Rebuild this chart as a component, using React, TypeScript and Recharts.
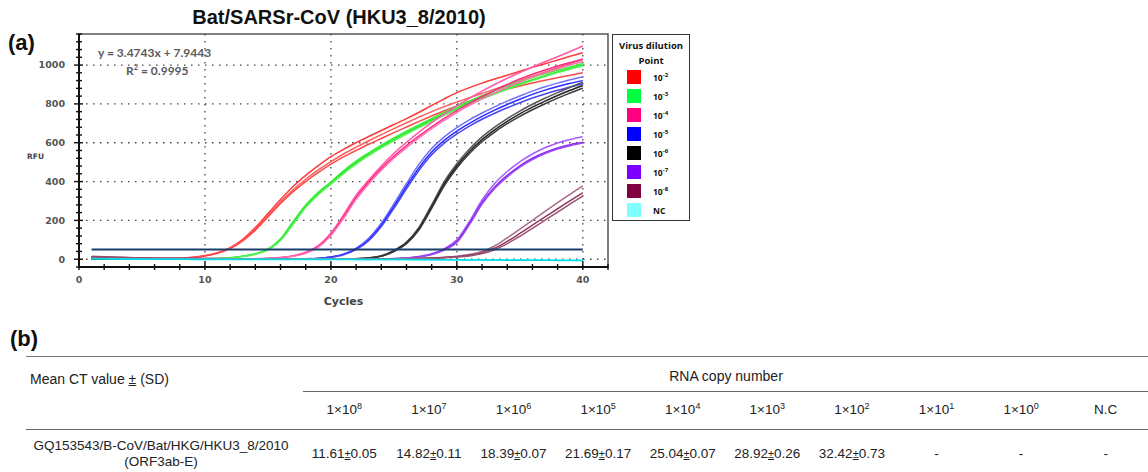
import React from 'react';
import { LineChart, Line, XAxis, YAxis, CartesianGrid, Legend, ReferenceArea } from 'recharts';

// amplification curves, RFU per cycle (3 replicates per dilution)
const cycles = [1, 2, 3, 4, 5, 6, 7, 8, 9, 10, 11, 12, 13, 14, 15, 16, 17, 18, 19, 20, 21, 22, 23, 24, 25, 26, 27, 28, 29, 30, 31, 32, 33, 34, 35, 36, 37, 38, 39, 40];

const red1 = [8, 6, 4, 3, 2, 2, 3, 5, 10, 19, 34, 60, 103, 163, 235, 308, 375, 432, 482, 528, 566, 600, 632, 663, 694, 724, 757, 792, 826, 858, 884, 907, 928, 948, 968, 988, 1007, 1026, 1045, 1063];
const red2 = [6, 4, 3, 2, 1, 1, 2, 4, 9, 18, 32, 57, 98, 155, 225, 295, 358, 412, 460, 503, 542, 577, 610, 642, 673, 703, 732, 760, 786, 810, 832, 854, 876, 898, 920, 942, 964, 986, 1008, 1030];
const red3 = [5, 3, 2, 1, 1, 1, 2, 4, 8, 17, 31, 55, 95, 150, 218, 287, 348, 400, 447, 490, 527, 560, 592, 622, 652, 681, 710, 738, 765, 790, 813, 835, 856, 875, 892, 908, 922, 935, 948, 960];

const green1 = [3, 2, 1, 1, 0, 0, 0, 1, 1, 2, 4, 8, 16, 28, 52, 105, 195, 280, 345, 398, 455, 505, 548, 588, 625, 660, 693, 725, 757, 788, 815, 842, 868, 893, 915, 936, 955, 973, 990, 1008];
const green2 = [2, 1, 1, 0, 0, 0, 0, 0, 1, 2, 4, 7, 15, 27, 50, 100, 187, 272, 338, 392, 448, 497, 540, 580, 617, 652, 685, 717, 748, 778, 806, 832, 857, 881, 904, 925, 945, 964, 982, 1000];
const green3 = [2, 2, 1, 1, 0, 0, 0, 0, 1, 1, 3, 7, 14, 26, 48, 96, 180, 266, 332, 386, 441, 490, 533, 573, 610, 645, 678, 710, 741, 771, 799, 826, 851, 875, 898, 920, 941, 961, 979, 996];

const pink1 = [4, 3, 2, 1, 0, 0, 0, 0, 0, 0, 1, 1, 2, 3, 5, 9, 18, 36, 70, 135, 228, 330, 408, 480, 545, 602, 655, 703, 748, 790, 830, 866, 900, 932, 962, 990, 1017, 1043, 1070, 1098];
const pink2 = [3, 2, 1, 1, 0, 0, 0, 0, 0, 0, 0, 1, 1, 2, 4, 8, 16, 33, 66, 128, 218, 318, 398, 468, 530, 585, 635, 682, 725, 765, 803, 838, 870, 900, 928, 953, 975, 995, 1013, 1030];
const pink3 = [3, 2, 1, 0, 0, 0, 0, 0, 0, 0, 0, 1, 1, 2, 4, 8, 15, 31, 62, 122, 210, 308, 388, 458, 520, 575, 625, 672, 715, 755, 792, 826, 857, 886, 913, 938, 960, 980, 1000, 1018];

const blue1 = [3, 2, 1, 0, 0, 0, 0, 0, 0, 0, 0, 0, 0, 0, 1, 1, 2, 3, 5, 12, 27, 57, 108, 185, 285, 390, 490, 570, 630, 678, 718, 753, 785, 814, 841, 866, 888, 907, 924, 940];
const blue2 = [2, 1, 1, 0, 0, 0, 0, 0, 0, 0, 0, 0, 0, 0, 0, 1, 1, 2, 4, 11, 25, 52, 100, 175, 272, 375, 472, 552, 612, 660, 700, 736, 768, 797, 824, 849, 871, 890, 906, 920];
const blue3 = [2, 1, 0, 0, 0, 0, 0, 0, 0, 0, 0, 0, 0, 0, 0, 1, 1, 2, 4, 10, 23, 49, 95, 168, 262, 362, 458, 538, 598, 645, 686, 721, 752, 780, 806, 830, 851, 870, 887, 903];

const black1 = [2, 1, 1, 0, 0, 0, 0, 0, 0, 0, 0, 0, 0, 0, 0, 0, 0, 0, 0, 0, 1, 3, 7, 18, 45, 88, 165, 280, 400, 492, 568, 630, 680, 724, 763, 798, 829, 858, 886, 912];
const black2 = [2, 1, 0, 0, 0, 0, 0, 0, 0, 0, 0, 0, 0, 0, 0, 0, 0, 0, 0, 0, 1, 2, 6, 16, 42, 84, 158, 270, 388, 480, 555, 616, 666, 710, 749, 783, 814, 843, 870, 895];
const black3 = [1, 1, 0, 0, 0, 0, 0, 0, 0, 0, 0, 0, 0, 0, 0, 0, 0, 0, 0, 0, 1, 2, 6, 15, 40, 80, 152, 262, 378, 470, 545, 605, 655, 698, 736, 770, 801, 830, 856, 881];

const purple1 = [10, 8, 6, 5, 4, 3, 3, 2, 2, 2, 2, 2, 2, 2, 2, 2, 2, 2, 2, 2, 2, 2, 3, 3, 4, 7, 14, 28, 55, 100, 195, 305, 390, 452, 502, 542, 574, 599, 617, 631];
const purple2 = [9, 7, 6, 4, 3, 3, 2, 2, 2, 2, 2, 2, 2, 2, 2, 2, 2, 2, 2, 2, 2, 2, 2, 3, 3, 6, 13, 26, 50, 92, 186, 293, 372, 432, 481, 520, 550, 573, 590, 602];
const purple3 = [8, 7, 5, 4, 3, 3, 2, 2, 2, 2, 2, 2, 2, 2, 2, 2, 2, 2, 2, 2, 2, 2, 2, 3, 3, 6, 12, 24, 47, 86, 178, 284, 364, 424, 474, 513, 544, 567, 585, 598];

const maroon1 = [15, 13, 11, 9, 7, 6, 5, 5, 4, 4, 4, 3, 3, 3, 3, 3, 3, 3, 3, 3, 3, 3, 3, 3, 3, 4, 5, 7, 10, 15, 24, 40, 68, 110, 155, 200, 246, 291, 335, 378];
const maroon2 = [13, 11, 9, 8, 6, 5, 5, 4, 4, 4, 3, 3, 3, 3, 3, 3, 3, 3, 3, 3, 3, 3, 3, 3, 3, 3, 4, 6, 9, 13, 20, 34, 57, 92, 133, 176, 218, 260, 302, 343];
const maroon3 = [12, 10, 8, 7, 6, 5, 4, 4, 4, 3, 3, 3, 3, 3, 3, 3, 3, 3, 3, 3, 3, 3, 3, 3, 3, 3, 4, 5, 8, 11, 17, 29, 49, 80, 118, 159, 201, 243, 285, 326];

const nc1 = [4, 3, 2, 1, 1, 0, 0, 0, 0, 0, 0, 0, 0, 0, 0, 0, 0, 0, 0, 0, 0, -1, -1, -1, -1, -2, -2, -2, -3, -3, -3, -3, -4, -4, -4, -4, -5, -5, -5, -5];
const nc2 = [3, 2, 1, 1, 0, 0, 0, 0, -1, -1, -1, -1, -1, -1, -1, -1, -1, -1, -1, -1, -1, -2, -2, -2, -2, -2, -3, -3, -3, -3, -4, -4, -4, -5, -5, -5, -5, -6, -6, -6];

const thresholdRFU = 50;

const xTicks = [0, 2, 4, 6, 8, 10, 12, 14, 16, 18, 20, 22, 24, 26, 28, 30, 32, 34, 36, 38, 40, 42];
const xGridValues = [10, 20, 30, 40];
const yTicks = [-40, 0, 40, 80, 120, 160, 200, 240, 280, 320, 360, 400, 440, 480, 520, 560, 600, 640, 680, 720, 760, 800, 840, 880, 920, 960, 1000, 1040, 1080, 1120, 1160];
const yGridValues = [0, 200, 400, 600, 800, 1000];

const legendLabels = ['-2', '-3', '-4', '-5', '-6', '-7', '-8', 'NC'];
const legendColors = ['#ff0000', '#00ff40', '#ff0080', '#0000ff', '#000000', '#8000ff', '#800040', '#80ffff'];

// table (b)
const copyExponents = ['8', '7', '6', '5', '4', '3', '2', '1', '0'];
const meanCt = [11.61, 14.82, 18.39, 21.69, 25.04, 28.92, 32.42];
const sdCt = [0.05, 0.11, 0.07, 0.17, 0.07, 0.26, 0.73];

const series = [
  { key: 'red1', values: red1, color: '#ff3a3a' },
  { key: 'red2', values: red2, color: '#ff5c5c' },
  { key: 'red3', values: red3, color: '#ff4848' },
  { key: 'green1', values: green1, color: '#3cf03c' },
  { key: 'green2', values: green2, color: '#22e822' },
  { key: 'green3', values: green3, color: '#5af25a' },
  { key: 'pink1', values: pink1, color: '#ff5aa8' },
  { key: 'pink2', values: pink2, color: '#ff2a85' },
  { key: 'pink3', values: pink3, color: '#ff70b4' },
  { key: 'blue1', values: blue1, color: '#7070ff' },
  { key: 'blue2', values: blue2, color: '#2a2aff' },
  { key: 'blue3', values: blue3, color: '#4646f5' },
  { key: 'black1', values: black1, color: '#555555' },
  { key: 'black2', values: black2, color: '#222222' },
  { key: 'black3', values: black3, color: '#3a3a3a' },
  { key: 'purple1', values: purple1, color: '#a75cff' },
  { key: 'purple2', values: purple2, color: '#8a2be8' },
  { key: 'purple3', values: purple3, color: '#9b45f5' },
  { key: 'maroon1', values: maroon1, color: '#a86a88' },
  { key: 'maroon2', values: maroon2, color: '#8b3a5e' },
  { key: 'maroon3', values: maroon3, color: '#9a5073' },
  { key: 'nc1', values: nc1, color: '#30f0f0' },
  { key: 'nc2', values: nc2, color: '#00dce6' },
];

const data = cycles.map((cycle, i) => {
  const row: Record<string, number> = { cycle, threshold: thresholdRFU };
  series.forEach((s) => {
    row[s.key] = s.values[i];
  });
  return row;
});

const tickFont = { fontFamily: '"DejaVu Sans", Verdana, sans-serif', fontSize: 9.5, fontWeight: 700, fill: '#555' };

const XTick = (props: any) => {
  const { x, y, payload } = props;
  const v = payload.value;
  const major = v % 10 === 0;
  return (
    <g>
      <line x1={x} x2={x} y1={major ? y - 6 : y - 3} y2={y + 3} stroke="#111" strokeWidth={1.4} />
      {major && v <= 40 && (
        <text x={x} y={y + 16} textAnchor="middle" {...tickFont}>{v}</text>
      )}
    </g>
  );
};

const YTick = (props: any) => {
  const { x, y, payload } = props;
  const v = payload.value;
  const major = v % 200 === 0;
  return (
    <g>
      <line x1={major ? x - 5 : x - 3} x2={major ? x + 4 : x + 3} y1={y} y2={y} stroke="#111" strokeWidth={1.4} />
      {major && v >= 0 && v <= 1000 && (
        <text x={x - 14} y={y} dy="0.35em" textAnchor="end" {...tickFont}>{v}</text>
      )}
    </g>
  );
};

const LegendBox = () => (
  <div style={{ position: 'relative', width: 78, height: 187, border: '1.5px solid #333', boxSizing: 'border-box', background: '#fff', fontFamily: '"Open Sans", Arial, sans-serif', color: '#111' }}>
    <div style={{ position: 'absolute', left: 0, right: 0, top: 4, textAlign: 'center', fontWeight: 700, fontSize: 9.5, lineHeight: '14.5px' }}>
      Virus dilution<br />Point
    </div>
    {legendLabels.map((lab, i) => (
      <div key={lab} style={{ position: 'absolute', left: 14, top: 35 + i * 19, height: 14, display: 'flex', alignItems: 'center' }}>
        <div style={{ width: 14, height: 14, background: legendColors[i] }} />
        <div style={{ marginLeft: 12, fontSize: 8.5, fontWeight: 700 }}>
          {lab === 'NC' ? 'NC' : <>10<sup style={{ fontSize: 6, verticalAlign: 'super', lineHeight: 0 }}>{lab}</sup></>}
        </div>
      </div>
    ))}
  </div>
);

const colStart = 302;
const colW = 84.6;
const tableFont = '"Liberation Sans", Arial, sans-serif';

const cellText = (i: number) => (i < meanCt.length ? (
  <>
    {meanCt[i].toFixed(2)}
    <span style={{ fontSize: 11, textDecoration: 'underline' }}>±</span>
    {sdCt[i].toFixed(2)}
  </>
) : '-');

export default function App() {
  const columns = [...copyExponents, 'N.C'];
  return (
    <div style={{ position: 'absolute', left: 0, top: 0, width: 1148, height: 472, background: '#fff', overflow: 'hidden' }}>
      <div style={{ position: 'absolute', left: 139, width: 400, top: 5, textAlign: 'center', fontFamily: tableFont, fontWeight: 700, fontSize: 20, lineHeight: '24px', color: '#111' }}>
        Bat/SARSr-CoV (HKU3_8/2010)
      </div>
      <div style={{ position: 'absolute', left: 8, top: 30, fontFamily: tableFont, fontWeight: 700, fontSize: 22, lineHeight: '26px', color: '#111' }}>(a)</div>

      <div style={{ position: 'absolute', left: 0, top: 0 }}>
        <LineChart width={720} height={310} data={data} margin={{ top: 34, right: 112, bottom: 2, left: 19 }}>
          <CartesianGrid horizontalValues={yGridValues} verticalValues={xGridValues} stroke="#444" strokeWidth={1.3} strokeDasharray="1.5 5.5" />
          <XAxis
            dataKey="cycle"
            type="number"
            domain={[0, 42]}
            ticks={xTicks}
            interval={0}
            height={41}
            tickSize={0}
            tickMargin={0}
            tickLine={false}
            tick={<XTick />}
            axisLine={{ stroke: '#111', strokeWidth: 2 }}
            label={{ value: 'Cycles', position: 'insideBottom', offset: 3, fontSize: 11, fontWeight: 700, fill: '#444', fontFamily: '"DejaVu Sans", Verdana, sans-serif' }}
          />
          <YAxis
            type="number"
            domain={[-40, 1160]}
            ticks={yTicks}
            interval={0}
            width={60}
            tickSize={0}
            tickMargin={0}
            tickLine={false}
            tick={<YTick />}
            axisLine={{ stroke: '#111', strokeWidth: 2 }}
            label={{ value: 'RFU', position: 'insideLeft', offset: 8, dy: 6, fontSize: 7.5, fontWeight: 700, fill: '#444', fontFamily: '"DejaVu Sans", Verdana, sans-serif' }}
          />
          <ReferenceArea x1={0} x2={42} y1={-40} y2={1160} fill="none" stroke="#555" strokeWidth={1.5} />
          {series.map((s) => (
            <Line key={s.key} dataKey={s.key} type="monotone" stroke={s.color} strokeWidth={1.5} dot={false} activeDot={false} isAnimationActive={false} />
          ))}
          <Line dataKey="threshold" type="linear" stroke="#173d6b" strokeWidth={2} dot={false} activeDot={false} isAnimationActive={false} />
          <Legend
            layout="vertical"
            align="center"
            verticalAlign="middle"
            content={<LegendBox />}
            wrapperStyle={{ position: 'absolute', left: 612, top: 34, width: 78, height: 187 }}
          />
        </LineChart>
      </div>

      <div style={{ position: 'absolute', left: 98, top: 45, fontFamily: 'Lato, "Open Sans", sans-serif', fontWeight: 700, fontSize: 12, color: '#5a5a5a', lineHeight: '16px' }}>
        y = 3.4743x + 7.9443
      </div>
      <div style={{ position: 'absolute', left: 126, top: 63, fontFamily: 'Lato, "Open Sans", sans-serif', fontWeight: 700, fontSize: 12, color: '#5a5a5a', lineHeight: '16px' }}>
        R<sup style={{ fontSize: 7.5, lineHeight: 0 }}>2</sup> = 0.9995
      </div>

      {/* (b) table */}
      <div style={{ position: 'absolute', left: 10, top: 326, fontFamily: tableFont, fontWeight: 700, fontSize: 22, lineHeight: '26px', color: '#111' }}>(b)</div>
      <div style={{ position: 'absolute', left: 26, top: 356, width: 1122, borderTop: '1.5px solid #777' }} />
      <div style={{ position: 'absolute', left: 30, top: 370, fontFamily: tableFont, fontSize: 14, lineHeight: '18px', color: '#222' }}>
        Mean CT value <span style={{ textDecoration: 'underline' }}>±</span> (SD)
      </div>
      <div style={{ position: 'absolute', left: 626, width: 200, top: 367, textAlign: 'center', fontFamily: tableFont, fontSize: 14, lineHeight: '18px', color: '#222' }}>
        RNA copy number
      </div>
      <div style={{ position: 'absolute', left: 303, top: 391, width: 845, borderTop: '1.2px solid #666' }} />
      {columns.map((c, i) => (
        <div key={c} style={{ position: 'absolute', left: colStart + i * colW, width: colW, top: 401, textAlign: 'center', fontFamily: tableFont, fontSize: 13.5, lineHeight: '18px', color: '#222' }}>
          {c === 'N.C' ? 'N.C' : <>1×10<sup style={{ fontSize: 9, lineHeight: 0 }}>{c}</sup></>}
        </div>
      ))}
      <div style={{ position: 'absolute', left: 26, top: 429, width: 1122, borderTop: '1.2px solid #666' }} />
      <div style={{ position: 'absolute', left: 26, width: 270, top: 438, textAlign: 'center', fontFamily: tableFont, fontSize: 13.5, lineHeight: '16px', color: '#222' }}>
        GQ153543/B-CoV/Bat/HKG/HKU3_8/2010<br />(ORF3ab-E)
      </div>
      {columns.map((c, i) => (
        <div key={'v' + c} style={{ position: 'absolute', left: colStart + i * colW, width: colW, top: 445, textAlign: 'center', fontFamily: tableFont, fontSize: 13.5, lineHeight: '18px', color: '#222' }}>
          {cellText(i)}
        </div>
      ))}
    </div>
  );
}
